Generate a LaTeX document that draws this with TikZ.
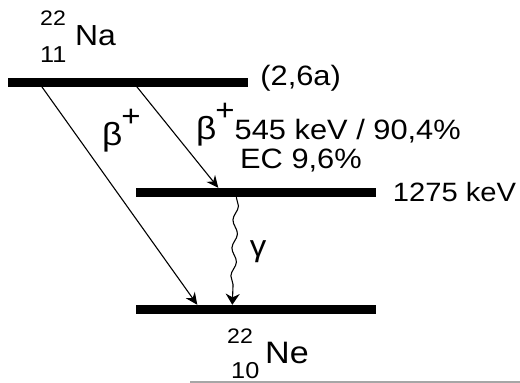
\documentclass[tikz,border=0pt]{standalone}
\usepackage{fontspec}
\setmainfont{Liberation Sans}[FakeStretch=1.1]
\usetikzlibrary{arrows.meta,positioning,decorations.pathmorphing}

\newcommand{\bplus}{{\fontsize{32}{32}\selectfont β}\kern-1pt\raisebox{19pt}{\fontsize{30}{30}\selectfont+}}

\begin{document}
\begin{tikzpicture}[
  x=1pt,y=-1pt,
  >=Stealth,
  every node/.style={inner sep=0pt,font=\fontsize{28}{32}\selectfont},
  level/.style={fill=black,minimum width=240pt,minimum height=9pt},
  mass/.style={anchor=base west,font=\fontsize{21}{24}\selectfont},
  charge/.style={anchor=base west,font=\fontsize{23}{26}\selectfont},
  decay/.style={->,line width=1.1pt,>={Stealth[length=12pt,width=11pt]}},
  photon/.style={->,line width=1.1pt,>={Stealth[length=11pt,width=14pt]},
    decorate,decoration={snake,amplitude=2.5pt,segment length=28pt,post length=16pt}}
]
  \useasboundingbox (0,0) rectangle (520,383);
  % energy levels
  \node[level] (na) at (128,82) {};
  \node[level] (exc) at (255.5,192.5) {};
  \node[level] (ne) at (255.5,309.5) {};
  \node[right=12pt of na,yshift=4pt] (halflife) {(2,6a)};
  \node[right=17pt of exc,font=\fontsize{26.5}{30}\selectfont] (e1275) {1275 keV};
  % nuclides
  \node[mass] (na-a) at (40,25) {22};
  \node[charge] (na-z) at (40,62) {11};
  \node[anchor=base west,font=\fontsize{29}{32}\selectfont] (na-sym) at (75,45) {Na};
  \node[mass] (ne-a) at (227,343) {22};
  \node[charge] (ne-z) at (231,378) {10};
  \node[anchor=base west,font=\fontsize{31}{34}\selectfont] (ne-sym) at (265,363) {Ne};
  % decay labels
  \node[anchor=base west] (beta1) at (102,145.5) {\bplus};
  \node[anchor=base west] (beta2) at (196,139) {\bplus545 keV / 90,4\%};
  \node[anchor=base west] (ec) at (240,168) {EC 9,6\%};
  \node[font=\fontsize{30}{32}\selectfont] (gam) at (258,252) {γ};
  % transitions
  \coordinate (b1s) at ([xshift=34pt]na.south west);
  \coordinate (b1e) at ([xshift=62pt]ne.north west);
  \coordinate (b2s) at ([xshift=129pt]na.south west);
  \coordinate (b2e) at ([xshift=83pt]exc.north west);
  \coordinate (gs) at ([xshift=101pt]exc.south west);
  \coordinate (ge) at ([xshift=97pt]ne.north west);
  \draw[decay] (b1s) -- (b1e);
  \draw[decay] (b2s) -- (b2e);
  \draw[photon] (gs) -- (ge);
  \draw[black!35,line width=1.5pt] (190,382) -- (520,382);
\end{tikzpicture}
\end{document}
